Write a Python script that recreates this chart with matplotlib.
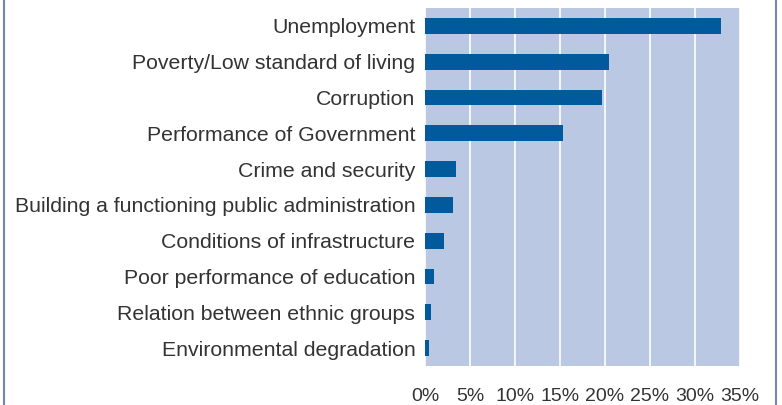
import matplotlib
matplotlib.use("Agg")
import matplotlib.pyplot as plt
from matplotlib.lines import Line2D

categories = [
    "Unemployment",
    "Poverty/Low standard of living",
    "Corruption",
    "Performance of Government",
    "Crime and security",
    "Building a functioning public administration",
    "Conditions of infrastructure",
    "Poor performance of education",
    "Relation between ethnic groups",
    "Environmental degradation",
]
values = [32.9, 20.4, 19.7, 15.3, 3.4, 3.1, 2.1, 1.0, 0.7, 0.45]
xticks = [0, 5, 10, 15, 20, 25, 30, 35]
xtick_labels = ["0%", "5%", "10%", "15%", "20%", "25%", "30%", "35%"]

plt.rcParams["font.family"] = ["Liberation Sans", "DejaVu Sans"]

fig = plt.figure(figsize=(7.82, 4.05), dpi=100)
ax = fig.add_axes([425 / 782, 1 - 366 / 405, 315 / 782, 358 / 405])
ax.set_facecolor("#bac8e4")

positions = list(range(len(categories)))
ax.barh(positions, values, height=0.44, color="#005a9c", zorder=3)
ax.set_xlim(0, 35)
ax.set_ylim(len(categories) - 0.5, -0.5)
ax.set_yticks(positions)
ax.set_yticklabels(categories, fontsize=15.3, color="#333333")
ax.set_xticks(xticks)
ax.set_xticklabels(xtick_labels, fontsize=14, color="#333333")
ax.tick_params(axis="both", length=0)
ax.tick_params(axis="x", pad=16)
ax.tick_params(axis="y", pad=7)
ax.grid(True, axis="x", color="white", linewidth=1.2, zorder=1)
for spine in ax.spines.values():
    spine.set_visible(False)

# outer frame lines at left and right edges
fig.add_artist(Line2D([3.5 / 782, 3.5 / 782], [0, 1], transform=fig.transFigure,
                      color="#7686ad", linewidth=1.5))
fig.add_artist(Line2D([775.5 / 782, 775.5 / 782], [0, 1], transform=fig.transFigure,
                      color="#7686ad", linewidth=1.5))

fig.savefig("out.png", dpi=100)
